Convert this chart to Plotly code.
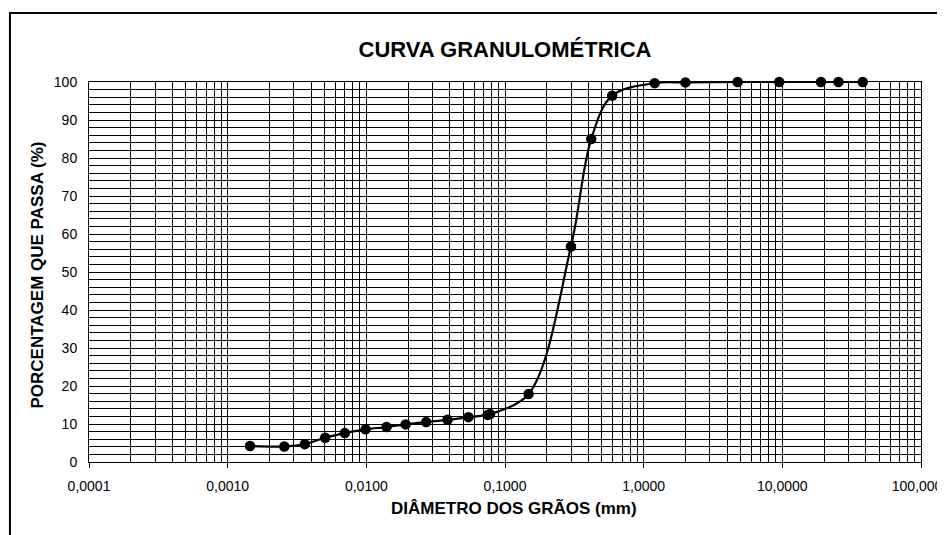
import plotly.graph_objects as go

# --- data ---
diametro_mm = [0.00145, 0.00256, 0.0036, 0.00505, 0.0070, 0.00987, 0.0140, 0.0192,
               0.0270, 0.0385, 0.0545, 0.0750, 0.0780, 0.148, 0.299, 0.419, 0.593,
               1.20, 2.00, 4.76, 9.50, 19.0, 25.4, 38.0]
passante_pct = [4.2, 4.1, 4.7, 6.4, 7.6, 8.6, 9.2, 9.9,
                10.5, 11.1, 11.8, 12.4, 12.6, 17.9, 56.7, 85.0, 96.4,
                99.7, 99.9, 100.0, 100.0, 100.0, 100.0, 100.0]

x_tickvals = [0.0001, 0.001, 0.01, 0.1, 1, 10, 100]
x_ticktext = ["0,0001", "0,0010", "0,0100", "0,1000", "1,0000", "10,0000", "100,0000"]
x_minor = [m * d for d in x_tickvals[:-1] for m in range(2, 10)]

titulo = "CURVA GRANULOMÉTRICA"
titulo_x = "DIÂMETRO DOS GRÃOS (mm)"
titulo_y = "PORCENTAGEM QUE PASSA (%)"

FONT = "Liberation Sans, Arial, sans-serif"

# the page body adds an 8px margin; the figure is sized to compensate
W, H = 937, 527

fig = go.Figure()
fig.add_trace(go.Scatter(
    x=diametro_mm, y=passante_pct, mode="lines+markers",
    line=dict(color="black", width=2.2, shape="spline", smoothing=1.0),
    marker=dict(color="black", size=10.5),
    cliponaxis=False,
    showlegend=False, hoverinfo="x+y",
))

fig.update_layout(
    width=W, height=H,
    margin=dict(l=81, r=24, t=74, b=73),
    paper_bgcolor="white", plot_bgcolor="white",
    font=dict(family=FONT, color="black", size=14),
    title=dict(text=titulo, x=0.5, xref="paper", xanchor="center",
               y=1 - 41 / H, yref="container", yanchor="middle",
               font=dict(family=FONT, size=22, color="black", weight="bold")),
    xaxis=dict(
        type="log", range=[-4, 2], autorange=False,
        tickmode="array", tickvals=x_tickvals, ticktext=x_ticktext,
        ticks="outside", ticklen=5, tickcolor="black", tickwidth=1,
        ticklabelstandoff=6, ticklabeloverflow="allow",
        showgrid=True, gridcolor="black", gridwidth=1,
        minor=dict(tickmode="array", tickvals=x_minor, showgrid=True,
                   gridcolor="black", gridwidth=1, ticks=""),
        showline=True, linecolor="black", linewidth=1, mirror=True,
        zeroline=False, automargin=False,
        tickfont=dict(family=FONT, size=14, color="black"),
    ),
    yaxis=dict(
        range=[0, 100], autorange=False,
        tickmode="linear", tick0=0, dtick=10,
        ticks="", ticklabelstandoff=8,
        showgrid=True, gridcolor="black", gridwidth=1,
        minor=dict(tickmode="linear", tick0=0, dtick=2, showgrid=True,
                   gridcolor="black", gridwidth=1, ticks=""),
        showline=True, linecolor="black", linewidth=1, mirror=True,
        zeroline=False, automargin=False,
        tickfont=dict(family=FONT, size=14, color="black"),
    ),
    annotations=[
        dict(text=titulo_x, xref="paper", yref="paper", x=0.511, y=-0.12,
             xanchor="center", yanchor="middle", showarrow=False,
             font=dict(family=FONT, size=17, color="black", weight="bold")),
        dict(text=titulo_y, xref="paper", yref="paper", x=-0.0619, y=0.492,
             xanchor="center", yanchor="middle", showarrow=False, textangle=-90,
             font=dict(family=FONT, size=17, color="black", weight="bold")),
    ],
    shapes=[
        dict(type="rect", xref="paper", yref="paper",
             x0=-0.095, x1=1.2, y0=-0.3, y1=1.1816,
             line=dict(color="black", width=2), fillcolor="rgba(0,0,0,0)",
             layer="below"),
    ],
)

fig.write_html("out.html")
